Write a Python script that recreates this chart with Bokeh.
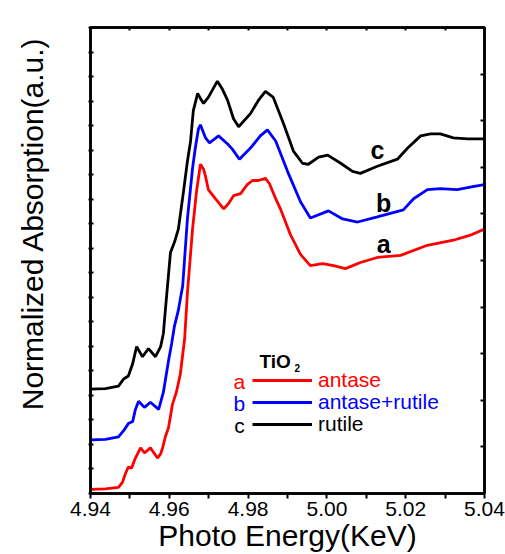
import math
from bokeh.plotting import figure
from bokeh.layouts import row
from bokeh.models import (Range1d, LinearAxis, FixedTicker, Label,
                          NumeralTickFormatter, CustomJSTickFormatter, Legend, LegendItem)
from bokeh.embed import file_html
from bokeh.resources import INLINE

# ---------------- data ----------------
energy_a = [4.9400, 4.9438, 4.9471, 4.9481, 4.9489, 4.9496, 4.9504, 4.9514, 4.9527, 4.9537,
            4.9552, 4.9570, 4.9578, 4.9583, 4.9590, 4.9598, 4.9608, 4.9618, 4.9628, 4.9639,
            4.9646, 4.9659, 4.9669, 4.9679, 4.9687, 4.9692, 4.9699, 4.9717, 4.9738, 4.9750,
            4.9763, 4.9781, 4.9798, 4.9811, 4.9826, 4.9844, 4.9854, 4.9870, 4.9882, 4.9908,
            4.9933, 4.9958, 4.9989, 5.0017, 5.0047, 5.0085, 5.0128, 5.0187, 5.0255, 5.0321,
            5.0364, 5.0400]
absorb_a = [0.087, 0.098, 0.130, 0.239, 0.435, 0.565, 0.543, 0.761, 0.978, 0.870,
            0.978, 0.761, 0.848, 0.978, 1.217, 1.413, 1.913, 2.174, 2.565, 3.326,
            4.304, 5.674, 6.478, 7.065, 6.957, 6.804, 6.522, 6.326, 6.109, 6.217,
            6.391, 6.435, 6.630, 6.717, 6.717, 6.761, 6.652, 6.326, 6.109, 5.543,
            5.130, 4.891, 4.935, 4.891, 4.826, 4.957, 5.065, 5.109, 5.326, 5.435,
            5.543, 5.674]

energy_b = [4.9400, 4.9438, 4.9471, 4.9484, 4.9496, 4.9507, 4.9514, 4.9522, 4.9537, 4.9552,
            4.9573, 4.9585, 4.9598, 4.9606, 4.9613, 4.9623, 4.9634, 4.9646, 4.9659, 4.9666,
            4.9674, 4.9679, 4.9692, 4.9702, 4.9712, 4.9725, 4.9748, 4.9760, 4.9778, 4.9806,
            4.9831, 4.9849, 4.9870, 4.9900, 4.9933, 4.9958, 5.0004, 5.0040, 5.0078, 5.0128,
            5.0194, 5.0220, 5.0255, 5.0288, 5.0331, 5.0370, 5.0400]
absorb_b = [1.152, 1.163, 1.217, 1.348, 1.500, 1.543, 1.804, 1.978, 1.848, 1.957,
            1.804, 2.174, 2.848, 3.217, 3.587, 3.935, 4.457, 5.891, 6.978, 7.413,
            7.826, 7.913, 7.630, 7.522, 7.587, 7.674, 7.500, 7.391, 7.174, 7.413,
            7.674, 7.804, 7.565, 6.913, 6.261, 5.913, 6.065, 5.891, 5.826, 5.935,
            6.087, 6.326, 6.522, 6.543, 6.522, 6.587, 6.630]

energy_c = [4.9400, 4.9438, 4.9471, 4.9484, 4.9496, 4.9507, 4.9517, 4.9532, 4.9547, 4.9565,
            4.9578, 4.9585, 4.9590, 4.9603, 4.9613, 4.9623, 4.9636, 4.9646, 4.9654, 4.9661,
            4.9672, 4.9679, 4.9687, 4.9699, 4.9722, 4.9735, 4.9748, 4.9763, 4.9776, 4.9806,
            4.9826, 4.9844, 4.9864, 4.9890, 4.9915, 4.9938, 4.9953, 4.9979, 5.0002, 5.0035,
            5.0065, 5.0085, 5.0128, 5.0179, 5.0205, 5.0238, 5.0263, 5.0288, 5.0321, 5.0357,
            5.0400]
absorb_c = [2.239, 2.250, 2.304, 2.457, 2.522, 2.783, 3.152, 2.935, 3.109, 2.935,
            3.152, 3.435, 3.935, 5.174, 5.391, 5.674, 6.478, 7.130, 7.565, 8.217,
            8.587, 8.478, 8.370, 8.500, 8.848, 8.674, 8.435, 8.043, 7.870, 8.152,
            8.435, 8.630, 8.500, 7.935, 7.348, 7.087, 7.065, 7.217, 7.261, 7.087,
            6.913, 6.870, 7.022, 7.174, 7.413, 7.674, 7.717, 7.717, 7.630, 7.609,
            7.609]

x_ticks = [4.94, 4.96, 4.98, 5.00, 5.02, 5.04]
series_names = ["antase", "antase+rutile", "rutile"]
series_letters = ["a", "b", "c"]
series_colors = ["#ff0000", "#0000ff", "#000000"]

FONT = "Liberation Sans"

# ---------- narrow strip holding the y-axis title ----------
side = figure(width=60, height=554, output_backend="svg", toolbar_location=None,
              x_range=Range1d(0, 60), y_range=Range1d(0, 554),
              x_axis_type=None, y_axis_type=None, min_border=0,
              background_fill_color="white", border_fill_color="white")
side.grid.visible = False
side.outline_line_color = None
side.add_layout(Label(x=32, y=99, text="Normalized Absorption(a.u.)", angle=math.pi / 2,
                      text_font=FONT, text_font_size="30px", text_color="black",
                      text_align="left", text_baseline="middle"))

# ---------- main chart ----------
p = figure(width=445, height=554, output_backend="svg", toolbar_location=None,
           x_range=Range1d(4.94, 5.04), y_range=Range1d(0, 10),
           min_border_left=30, min_border_right=21, min_border_top=27, min_border_bottom=0,
           background_fill_color="white", border_fill_color="white")
p.grid.visible = False
p.outline_line_color = "black"
p.outline_line_width = 2.5

# bottom axis
xa = p.xaxis[0]
xa.ticker = FixedTicker(ticks=x_ticks, minor_ticks=[4.95, 4.97, 4.99, 5.01, 5.03])
xa.formatter = NumeralTickFormatter(format="0.00")
xa.axis_label = "Photo Energy(KeV)"
xa.axis_label_text_font = FONT
xa.axis_label_text_font_size = "30px"
xa.axis_label_text_font_style = "normal"
xa.axis_label_text_color = "black"
xa.axis_label_standoff = 0
xa.major_label_text_font = FONT
xa.major_label_text_font_size = "21px"
xa.major_label_text_color = "black"
xa.major_label_standoff = 3
xa.major_tick_in = 0
xa.major_tick_out = 5
xa.minor_tick_in = 0
xa.minor_tick_out = 5
xa.axis_line_width = 2.5
xa.major_tick_line_width = 2
xa.minor_tick_line_width = 2

# left axis (no labels)
ya = p.yaxis[0]
ya.ticker = FixedTicker(ticks=[i * 10 / 19 for i in range(20)], minor_ticks=[])
ya.formatter = CustomJSTickFormatter(code="return ''")
ya.major_label_standoff = 0
ya.major_tick_in = 3
ya.major_tick_out = 2
ya.axis_line_width = 2.5
ya.major_tick_line_width = 2

# top and right axes
top = LinearAxis(ticker=FixedTicker(ticks=[4.94 + 0.01 * i for i in range(11)], minor_ticks=[]),
                 formatter=CustomJSTickFormatter(code="return ''"),
                 major_tick_in=3, major_tick_out=0, major_label_standoff=0,
                 axis_line_width=2.5, major_tick_line_width=2)
p.add_layout(top, "above")
right = LinearAxis(ticker=FixedTicker(ticks=list(range(11)), minor_ticks=[]),
                   formatter=CustomJSTickFormatter(code="return ''"),
                   major_tick_in=4, major_tick_out=0, major_label_standoff=0,
                   axis_line_width=2.5, major_tick_line_width=2)
p.add_layout(right, "right")

# curves
rs = []
for ex, ab, col in zip([energy_a, energy_b, energy_c], [absorb_a, absorb_b, absorb_c], series_colors):
    rs.append(p.line(ex, ab, line_color=col, line_width=2.8))

# curve letters
for txt, x, y in [("c", 5.0128, 7.37), ("b", 5.0144, 6.24), ("a", 5.0144, 5.35)]:
    p.add_layout(Label(x=x, y=y, text=txt, text_font=FONT, text_font_size="25px",
                       text_font_style="bold", text_color="black",
                       text_align="center", text_baseline="middle"))

# legend (three single-item legends so each label keeps its colour)
leg_y = [101, 79, 57]
for r, name, col, ly in zip(rs, series_names, series_colors, leg_y):
    lg = Legend(items=[LegendItem(label=name, renderers=[r])], location=(162, ly),
                glyph_width=60, glyph_height=20, label_height=20, label_standoff=6,
                padding=0, margin=0, spacing=0, border_line_color=None,
                background_fill_alpha=0, label_text_color=col, label_text_font=FONT,
                label_text_font_size="21px")
    p.add_layout(lg)

for txt, y, col in zip(series_letters, [2.413, 1.935, 1.457], series_colors):
    p.add_layout(Label(x=4.9778, y=y, text=txt, text_color=col, text_font=FONT,
                       text_font_size="21px", text_align="center", text_baseline="middle"))

p.add_layout(Label(x=4.9829, y=2.826, text="TiO", text_font=FONT, text_font_size="19px",
                   text_font_style="bold", text_color="black",
                   text_align="left", text_baseline="alphabetic"))
p.add_layout(Label(x=4.9918, y=2.70, text="2", text_font=FONT, text_font_size="10px",
                   text_font_style="bold", text_color="black",
                   text_align="left", text_baseline="alphabetic"))

layout = row(side, p, spacing=0)
open("out.html", "w").write(file_html(layout, INLINE))
